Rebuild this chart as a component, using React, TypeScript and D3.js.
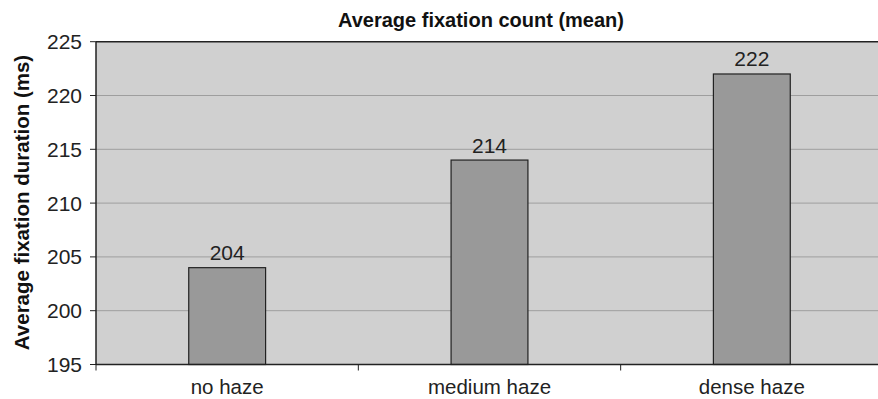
import { useMemo } from "react";
import { scaleBand, scaleLinear } from "d3";

const categories = ["no haze", "medium haze", "dense haze"];
const values = [204, 214, 222];
const yTicks = [195, 200, 205, 210, 215, 220, 225];

const WIDTH = 878;
const HEIGHT = 399;
const FONT = "'Liberation Sans', Arial, Helvetica, sans-serif";

export default function App() {
  const left = 96;
  const right = 883; // plot runs off the right edge, as in the source image
  const top = 41.7;
  const bottom = 364.5;

  const x = useMemo(
    () => scaleBand<string>().domain(categories).range([left, right]).padding(0),
    [],
  );
  const y = useMemo(
    () => scaleLinear().domain([195, 225]).range([bottom, top]),
    [],
  );
  const barW = x.bandwidth() * 0.293;

  return (
    <svg
      width={WIDTH}
      height={HEIGHT}
      style={{ position: "absolute", left: 0, top: 0, background: "#fff" }}
      fontFamily={FONT}
    >
      {/* plot background */}
      <rect x={left} y={top} width={right - left} height={bottom - top} fill="#d0d0d0" />

      {/* gridlines */}
      {yTicks.slice(1, -1).map((t) => (
        <line key={t} x1={left} x2={right} y1={y(t)} y2={y(t)} stroke="#9e9e9e" strokeWidth={1} />
      ))}

      {/* bars */}
      {categories.map((c, i) => {
        const cx = (x(c) ?? 0) + x.bandwidth() / 2;
        return (
          <g key={c}>
            <rect
              x={cx - barW / 2}
              y={y(values[i])}
              width={barW}
              height={bottom - y(values[i])}
              fill="#999999"
              stroke="#222"
              strokeWidth={1.2}
            />
            <text
              x={cx}
              y={y(values[i]) - 7.5}
              textAnchor="middle"
              fontSize={21}
              fill="#222"
            >
              {values[i]}
            </text>
            <text x={cx} y={393.5} textAnchor="middle" fontSize={20.5} fill="#222">
              {c}
            </text>
          </g>
        );
      })}

      {/* axes */}
      <line x1={left} x2={left} y1={top} y2={bottom} stroke="#222" strokeWidth={1.5} />
      <line x1={left} x2={right} y1={bottom} y2={bottom} stroke="#222" strokeWidth={1.5} />
      <line x1={left} x2={right} y1={top} y2={top} stroke="#222" strokeWidth={1.5} />

      {/* y ticks */}
      {yTicks.map((t) => (
        <g key={t}>
          <line x1={90} x2={left} y1={y(t)} y2={y(t)} stroke="#222" strokeWidth={1} />
          <text x={82} y={y(t) + 7.5} textAnchor="end" fontSize={21} fill="#222">
            {t}
          </text>
        </g>
      ))}

      {/* x ticks at category boundaries */}
      {categories.map((c) => (
        <line
          key={c}
          x1={x(c) ?? 0}
          x2={x(c) ?? 0}
          y1={bottom}
          y2={bottom + 6}
          stroke="#222"
          strokeWidth={1}
        />
      ))}

      {/* title */}
      <text x={481} y={27} textAnchor="middle" fontSize={20} fontWeight="bold" fill="#111">
        Average fixation count (mean)
      </text>

      {/* y label */}
      <text
        transform={`translate(28.5,202.5) rotate(-90)`}
        textAnchor="middle"
        fontSize={20.5}
        fontWeight="bold"
        fill="#111"
      >
        Average fixation duration (ms)
      </text>
    </svg>
  );
}
